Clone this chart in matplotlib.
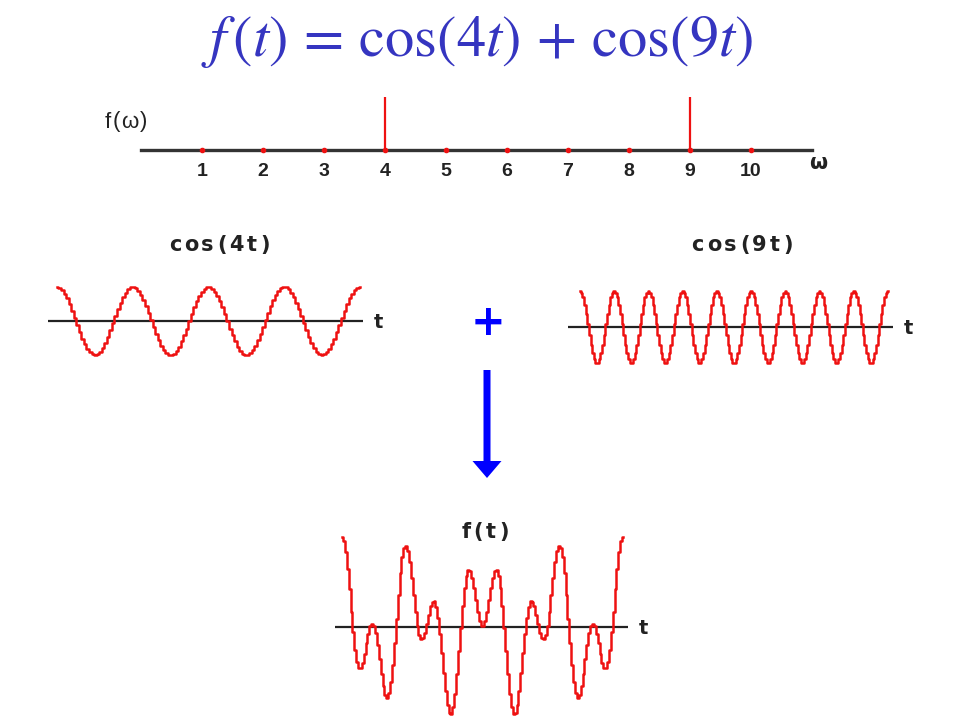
import numpy as np
import matplotlib
matplotlib.use("Agg")
from matplotlib import pyplot as plt

# spectrum: the two frequencies present and their heights
freqs = [4, 9]
amps = [1.0, 1.0]
omega_ticks = [1, 2, 3, 4, 5, 6, 7, 8, 9, 10]
omega_max = 11

# time window shown in the three signal panels
t_end = 2 * np.pi

title_txt = r"$f\,(t)\,=\,\mathrm{cos}(4t)\,+\,\mathrm{cos}(9t)$"
red = "#ee1111"
ink = "#222222"
blue = "#0000ff"

plt.rcParams["mathtext.fontset"] = "stix"
plt.rcParams["font.family"] = ["DejaVu Sans"]

W, H = 960, 720
fig = plt.figure(figsize=(W / 100, H / 100), dpi=100)
renderer = fig.canvas.get_renderer()

def px_axes(x0, y0, x1, y1):
    # axes box given in pixel coords, y measured from the top
    ax = fig.add_axes([x0 / W, 1 - y1 / H, (x1 - x0) / W, (y1 - y0) / H])
    ax.set_axis_off()
    return ax

def tracked_text(xc, yc, s, track, **kw):
    # the labels in the original are letter-spaced, so place char by char
    parts = [fig.text(0, 0, ch, va="center", ha="left", **kw) for ch in s]
    widths = [p.get_window_extent(renderer).width for p in parts]
    total = sum(widths) + track * (len(s) - 1)
    x = xc - total / 2
    for p, w in zip(parts, widths):
        p.set_position((x / W, 1 - yc / H))
        x += w + track

fig.text(477 / W, 1 - 41 / H, title_txt, color="#3535c0", fontsize=42,
         ha="center", va="center")

# ---- spectrum f(w)
ax = px_axes(141, 97, 812, 150)
ax.set_xlim(0, omega_max)
ax.set_ylim(0, 1)
ax.plot([0, omega_max], [0, 0], color="#333333", lw=2.4, clip_on=False,
        zorder=1)
ax.vlines(freqs, 0, amps, color=red, lw=1.6, zorder=2)
ax.plot(omega_ticks, np.zeros(len(omega_ticks)), "o", color=red, ms=3,
        clip_on=False, zorder=3)
for w in omega_ticks:
    ax.text(w, -0.4, str(w), ha="center", va="center", fontsize=14,
            fontweight="bold", color=ink, family="Liberation Sans")
tracked_text(126, 122, "f(\u03c9)", 1.5, fontsize=16, color=ink,
             family="Liberation Sans")
ax.text(11.1, -0.25, "\u03c9", ha="center", va="center", fontsize=15,
        fontweight="bold", color=ink)

def signal_panel(box, left_pad, right_pad, ycenter, scale, comps, label,
                 lab_xy, ylim, n):
    x0, x1 = box
    ax = px_axes(x0, ycenter - scale * ylim, x1, ycenter + scale * ylim)
    ax.set_xlim(-left_pad, t_end + right_pad)
    ax.set_ylim(-ylim, ylim)
    t = np.linspace(0, t_end, n)
    y = sum(np.cos(w * t) for w in comps)
    ax.axhline(0, color=ink, lw=1.6, zorder=1)
    ax.plot(t, y, color=red, lw=1.8, drawstyle="steps-mid", clip_on=False,
            zorder=2)
    fig.text((x1 + 15) / W, 1 - (ycenter + 2) / H, "t", ha="center",
             va="center", fontsize=14, fontweight="bold", color=ink)
    tracked_text(lab_xy[0], lab_xy[1], label, 3, fontsize=15,
                 fontweight="bold", color=ink)
    return ax

signal_panel((48, 363), 0.19, 0.06, 321, 34, [freqs[0]], "cos(4t)",
             (219, 245), 1, 120)
signal_panel((568, 893), 0.245, 0.1, 327, 36, [freqs[1]], "cos(9t)",
             (742, 245), 1, 190)
signal_panel((335, 628), 0.157, 0.11, 627, 45, freqs, "f(t)",
             (485, 532), 2, 150)

# plus sign and arrow
fig.text(488 / W, 1 - 323 / H, "+", ha="center", va="center", fontsize=30,
         fontweight="bold", color=blue)
axa = px_axes(0, 0, W, H)
axa.set_xlim(0, W)
axa.set_ylim(H, 0)
axa.arrow(487, 370, 0, 108, width=7, head_width=29, head_length=17,
          length_includes_head=True, color=blue, lw=0)

fig.savefig("out.png", dpi=100)
